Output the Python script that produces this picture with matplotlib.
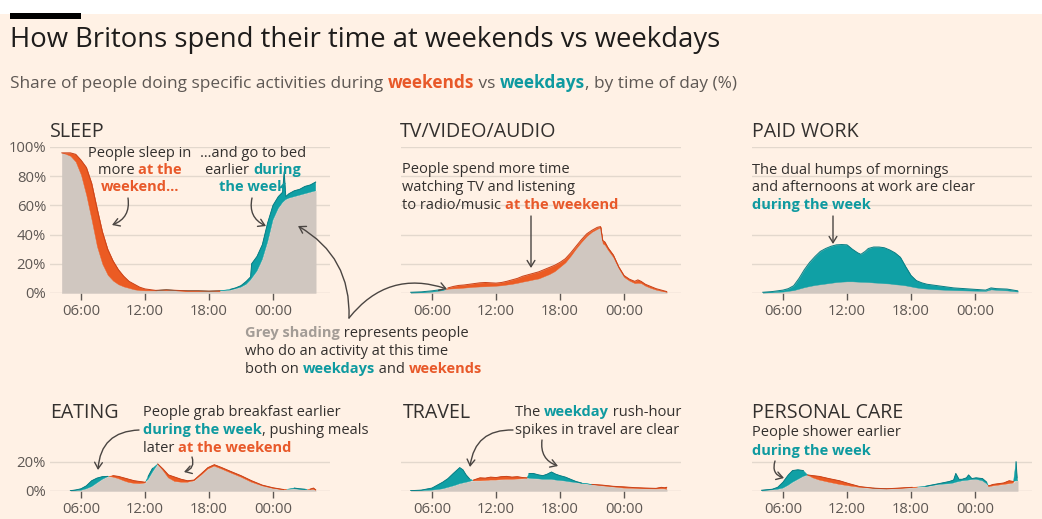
import numpy as np
import matplotlib
matplotlib.use('Agg')
import matplotlib.pyplot as plt
from matplotlib.patches import FancyArrowPatch, Rectangle

# ---------------------------------------------------------------- data
# Share of people (%) doing each activity, by hour of day (4 = 04:00, 28 = 04:00 next day)
sleep_hours = [4.2, 4.5, 5.0, 5.5, 6.0, 6.5, 7.0, 7.5, 8.0, 8.5, 9.0, 9.5, 10.0, 10.5, 11.0,
               11.5, 12.0, 13.0, 14.0, 15.0, 16.0, 17.0, 18.0, 19.0, 20.0, 20.5, 21.0, 21.5,
               21.9, 22.0, 22.5, 23.0, 23.5, 24.0, 24.5, 24.9, 25.05, 25.2, 25.5, 26.0, 26.5,
               27.0, 27.5, 28.0]
sleep_weekday = [96, 95.5, 94, 90, 81, 67, 50, 32, 20, 12.5, 8.5, 6, 4.5, 3.5, 2.5,
                 2, 1.8, 1.8, 2.2, 1.8, 1.5, 1.5, 1.3, 1.5, 2.5, 3.5, 5, 8,
                 11, 20, 25, 33, 48, 60, 66, 69, 83, 66, 68, 70, 71,
                 73, 74, 76]
sleep_weekend = [96, 96, 96, 95, 91, 86, 75, 58, 42, 30, 22, 16, 11.5, 8, 6,
                 4, 2.8, 1.8, 2.2, 1.8, 1.5, 1.5, 1.3, 1.5, 2, 3, 4, 6,
                 9, 10, 15, 23, 35, 50, 58, 62, 63, 64, 65, 66, 67,
                 68, 69, 70]

tv_hours = [4.0, 5.0, 6.0, 7.0, 7.5, 8.0, 8.5, 9.0, 9.5, 10.0, 10.5, 11.0, 11.5, 12.0, 12.5,
            13.0, 13.5, 14.0, 14.5, 15.0, 15.5, 16.0, 16.5, 17.0, 17.5, 18.0, 18.5, 19.0,
            19.5, 20.0, 20.5, 21.0, 21.5, 21.8, 22.0, 22.2, 22.5, 23.0, 23.5, 24.0, 24.5,
            25.0, 25.3, 25.6, 26.0, 26.5, 27.0, 27.5, 28.0]
tv_weekday = [0.5, 0.8, 1.5, 2.5, 3, 3.2, 3.4, 3.7, 4, 4.3, 4.5, 4.6, 4.8, 5, 5.3,
              5.8, 6.3, 7, 7.8, 8.5, 9.3, 10, 11.5, 13, 15, 18, 21, 25.5,
              30.5, 35, 39, 42, 44, 45, 34, 33, 29.5, 24.5, 17, 11, 8.5,
              6.8, 7, 6.8, 5, 3.5, 2.3, 1.5, 0.8]
tv_weekend = [0.3, 0.5, 1, 2, 3.5, 4.5, 5.2, 5.5, 6, 6.5, 7, 7.2, 7, 6.8, 7.2,
              8, 9, 10, 11.5, 12.5, 13.5, 14.5, 16, 17.5, 19, 21, 23.5, 27.5,
              32, 36.5, 40.5, 43, 45, 45.5, 36, 35, 31, 26, 18, 12, 9.5,
              8, 9, 8, 6, 4.5, 3, 2, 1]

work_hours = [4.1, 5.0, 6.0, 6.5, 7.0, 7.5, 8.0, 8.5, 9.0, 9.5, 10.0, 10.5, 11.0, 11.5, 12.0,
              12.5, 13.0, 13.3, 13.7, 14.0, 14.5, 15.0, 15.5, 16.0, 16.5, 17.0, 17.5, 18.0,
              18.5, 19.0, 19.5, 20.0, 21.0, 22.0, 23.0, 24.0, 25.0, 25.5, 26.0, 27.0, 28.0]
work_weekday = [0.5, 1, 2, 3, 5, 10, 16, 21, 25, 28.5, 30.5, 32, 33, 33.2, 33,
                30, 27.5, 26.5, 28.5, 30.5, 31.5, 31.5, 31, 29.5, 27.5, 24.5, 18, 12,
                8.5, 7, 6, 5.5, 4.5, 3.5, 3, 2.5, 2, 3.5, 3, 2.7, 1.5]
work_weekend = [0.3, 0.6, 1, 1.5, 2, 3, 4, 4.8, 5.5, 6, 6.5, 7, 7.5, 7.8, 8,
                8, 7.8, 7.7, 7.6, 7.5, 7.2, 7, 6.7, 6.5, 6, 5.7, 5.2, 4.5,
                3.8, 3.3, 3, 2.7, 2.3, 2, 1.8, 1.6, 1.5, 2.5, 2.2, 1.8, 1]

eat_hours = [5.0, 5.5, 6.0, 6.5, 7.0, 7.5, 8.0, 8.5, 9.0, 9.5, 10.0, 10.5, 11.0, 11.5, 12.0,
             12.3, 12.7, 13.2, 13.7, 14.2, 14.8, 15.4, 16.0, 16.6, 17.3, 17.9, 18.5, 19.2,
             20.0, 21.0, 22.0, 23.0, 24.0, 25.0, 26.0, 26.5, 27.0, 27.5, 27.8, 28.0]
eat_weekday = [0.2, 0.7, 1.5, 3.5, 7, 8.8, 9.8, 10, 9.5, 8.5, 7, 5.8, 5.2, 5, 5.5,
               10, 15.5, 18.5, 14, 9, 6.5, 6, 6, 7, 11, 15, 17, 15,
               12.5, 9.5, 6, 3.5, 1.8, 0.8, 2, 1.5, 1.2, 1, 1, 0.6]
eat_weekend = [0.1, 0.3, 0.5, 1.5, 3, 5.5, 8, 9.8, 10.5, 10, 9, 8, 7, 6.5, 6,
               8, 13, 18.5, 15, 11, 9.5, 8, 7, 7.5, 12, 16, 18, 16,
               13.5, 10.5, 7, 4, 2.2, 1, 1.5, 1.2, 1, 1.3, 2, 0.8]

travel_hours = [4.0, 5.0, 6.0, 6.5, 7.0, 7.5, 8.0, 8.3, 8.6, 8.9, 9.2, 9.5, 9.9, 10.5, 11.0,
                11.5, 12.0, 12.5, 13.0, 13.5, 14.0, 14.5, 14.9, 15.1, 15.5, 16.0, 16.4, 16.8,
                17.2, 17.6, 18.0, 18.5, 19.0, 19.5, 20.0, 21.0, 22.0, 23.0, 24.0, 25.0, 26.0,
                27.0, 27.5, 27.8, 28.0]
travel_weekday = [0.2, 0.6, 2, 4, 6, 8.5, 12, 14, 16, 14.5, 11, 8.5, 7, 7, 7.2,
                  7.5, 7.5, 7.8, 8, 8, 8.2, 8.4, 8.8, 12, 12, 11, 10.5, 11.5,
                  13, 11.5, 10.5, 9.5, 8, 6.5, 5.5, 4.5, 3.5, 2.8, 2, 1.8, 1.5,
                  1.4, 1.5, 1.5, 1.2]
travel_weekend = [0.1, 0.3, 0.6, 1, 1.5, 2.5, 3.5, 4.2, 5, 5.5, 6, 6.5, 7.5, 9, 8.8,
                  9.5, 9.2, 9.8, 10, 9.5, 9.8, 9.2, 9, 8.8, 8.5, 8.3, 8, 8,
                  8, 7.5, 7.2, 6.8, 6.2, 5.8, 5.3, 4.5, 4, 3.2, 2.8, 2.3, 2,
                  1.8, 2.5, 2.2, 2.5]

care_hours = [4.0, 5.0, 5.5, 6.0, 6.5, 6.9, 7.4, 7.9, 8.3, 8.8, 9.4, 10.3, 11.3, 12.2, 13.2,
              14.4, 15.7, 16.9, 18.1, 19.4, 20.6, 21.6, 22.0, 22.2, 22.5, 22.8, 23.2, 23.4,
              23.7, 24.1, 24.7, 25.1, 25.3, 25.7, 26.2, 26.7, 27.2, 27.6, 27.85, 27.95, 28.0]
care_weekday = [0.5, 1.2, 2.5, 6, 11, 14, 14.5, 14, 11, 9, 7.5, 6, 4.5, 3.5, 2.5,
                2, 1.5, 1.8, 2.3, 3.3, 5, 6.5, 7.5, 12, 8, 8, 9, 11,
                8.5, 9, 8.5, 6, 3, 3.5, 4, 4.5, 5, 5.5, 20, 9, 7]
care_weekend = [0.3, 0.8, 1.2, 2, 4, 6, 8, 10, 11, 10.5, 10, 8.5, 7, 5, 3,
                2, 1.5, 2, 2.5, 3, 4.5, 5, 5.5, 6, 6.5, 7, 7.3, 7.5,
                7.8, 8, 7, 5, 3.5, 4.5, 5, 5.5, 7, 6.5, 7, 7, 7]

tick_hours = [6, 12, 18, 24]
tick_labels = ['06:00', '12:00', '18:00', '00:00']
top_grid = [0, 20, 40, 60, 80, 100]
bottom_grid = [0, 20]

# ---------------------------------------------------------------- style
W, H = 1042, 519
plt.rcParams['font.family'] = ['Open Sans', 'DejaVu Sans']

BG = '#fff1e5'
ORANGE = '#eb5b23'
ORANGE_EDGE = '#c9431a'
ORANGE_TXT = '#e8592a'
TEAL = '#10a0a5'
TEAL_EDGE = '#0a7e84'
TEAL_TXT = '#0f9aa0'
GREY_FILL = '#d0c7c0'
GRID = '#e3d8cd'
DARK = '#33302e'
MID = '#5e5854'
GREY_TXT = '#a39c96'
ARROW = '#4a4542'

fig = plt.figure(figsize=(W / 100, H / 100), dpi=100, facecolor=BG)
renderer = fig.canvas.get_renderer()


def fx(x):
    return x / W


def fy(y):
    return 1 - y / H


def adv(s, size, weight='normal'):
    t = fig.text(0, 0, s + '|', fontsize=size, fontweight=weight)
    w1 = t.get_window_extent(renderer).width
    t.set_text('|')
    w2 = t.get_window_extent(renderer).width
    t.remove()
    return w1 - w2


def fit(parts, target):
    total = sum(adv(s, 10, wt) for s, c, wt in parts)
    return 10 * target / total


def rich(x, y, parts, size, ha='left'):
    widths = [adv(s, size, wt) for s, c, wt in parts]
    if ha == 'center':
        x -= sum(widths) / 2
    for (s, c, wt), w in zip(parts, widths):
        fig.text(fx(x), fy(y), s, fontsize=size, color=c, fontweight=wt,
                 ha='left', va='baseline')
        x += w


def arrow(a, b, rad=0.0):
    p = FancyArrowPatch((fx(a[0]), fy(a[1])), (fx(b[0]), fy(b[1])),
                        transform=fig.transFigure,
                        connectionstyle=f'arc3,rad={rad}',
                        arrowstyle='->,head_length=0.45,head_width=0.28',
                        mutation_scale=10, lw=1.0, color=ARROW,
                        shrinkA=0, shrinkB=0)
    fig.add_artist(p)


N, B = 'normal', 'bold'

# header band
fig.add_artist(Rectangle((0, fy(14)), 1, 1 - fy(14), transform=fig.transFigure,
                         facecolor='white', edgecolor='none'))
fig.add_artist(Rectangle((fx(10), fy(18.5)), fx(71), fy(13) - fy(18.5),
                         transform=fig.transFigure, facecolor='black', edgecolor='none'))

title = 'How Britons spend their time at weekends vs weekdays'
title_size = fit([(title, DARK, N)], 712)
fig.text(fx(10), fy(47), title, fontsize=title_size, color='#1e1c1b', va='baseline')

sub_parts = [('Share of people doing specific activities during ', MID, N),
             ('weekends', ORANGE_TXT, B), (' vs ', MID, N),
             ('weekdays', TEAL_TXT, B), (', by time of day (%)', MID, N)]
rich(10, 88, sub_parts, fit(sub_parts, 728))

# ---------------------------------------------------------------- panels
PX_PER_H = 64 / 6
PX_PER_PCT = 1.46
panel_size = fit([('TV/VIDEO/AUDIO', DARK, N)], 156)
tick_size = fit([('06:00', MID, N)], 38)
note_size = fit([('People spend more time', DARK, N)], 167)

panels = [
    ('SLEEP', sleep_hours, sleep_weekday, sleep_weekend, 0, 0, (50, 137)),
    ('TV/VIDEO/AUDIO', tv_hours, tv_weekday, tv_weekend, 1, 0, (400, 137)),
    ('PAID WORK', work_hours, work_weekday, work_weekend, 2, 0, (752, 137)),
    ('EATING', eat_hours, eat_weekday, eat_weekend, 0, 1, (50, 418)),
    ('TRAVEL', travel_hours, travel_weekday, travel_weekend, 1, 1, (403, 418)),
    ('PERSONAL CARE', care_hours, care_weekday, care_weekend, 2, 1, (752, 418)),
]

for name, hrs, wd, we, col, row, (tx, ty) in panels:
    six = 81 + 351 * col
    left = six - 31
    if row == 0:
        bottom, ymax, grid = 293, 100, top_grid
    else:
        bottom, ymax, grid = 491, 25, bottom_grid
    height = ymax * PX_PER_PCT
    ax = fig.add_axes([fx(left), fy(bottom), 280 / W, height / H])
    ax.set_xlim(6 - 31 / PX_PER_H, 6 + 249 / PX_PER_H)
    ax.set_ylim(0, ymax)
    ax.patch.set_alpha(0)
    for s in ax.spines.values():
        s.set_visible(False)
    for g in grid:
        ax.axhline(g, color=GRID if g else '#d8cdc2', lw=1.0, zorder=0)

    h = np.array(hrs, float)
    wd = np.array(wd, float)
    we = np.array(we, float)
    base = np.minimum(wd, we)
    ax.fill_between(h, 0, base, color=GREY_FILL, lw=0.3, zorder=2)
    ax.fill_between(h, wd, we, where=we >= wd, interpolate=True,
                    color=ORANGE, lw=0.3, zorder=2)
    ax.fill_between(h, we, wd, where=wd >= we, interpolate=True,
                    color=TEAL, lw=0.3, zorder=2)
    # thin darker edge along whichever series is on top
    ax.plot(h, np.where(we >= wd, we, np.nan), color=ORANGE_EDGE, lw=0.7, zorder=3)
    ax.plot(h, np.where(wd > we, wd, np.nan), color=TEAL_EDGE, lw=0.7, zorder=3)

    ax.set_xticks(tick_hours)
    ax.set_xticklabels(tick_labels)
    ax.tick_params(axis='x', length=5, width=1, color=MID, pad=3,
                   labelsize=tick_size, labelcolor=MID)
    ax.set_yticks([])

    fig.text(fx(tx), fy(ty), name, fontsize=panel_size, color=DARK, va='baseline')

    if col == 0:
        for g in grid:
            fig.text(fx(46), fy(bottom - g * PX_PER_PCT + 2), f'{g}%', fontsize=tick_size,
                     color=MID, ha='right', va='center')

# ---------------------------------------------------------------- notes
rich(140, 157, [('People sleep in', DARK, N)], note_size, 'center')
rich(140, 174, [('more ', DARK, N), ('at the', ORANGE_TXT, B)], note_size, 'center')
rich(140, 191.5, [('weekend\u2026', ORANGE_TXT, B)], note_size, 'center')
arrow((128, 198), (112, 225), -0.4)

rich(253, 157, [('\u2026and go to bed', DARK, N)], note_size, 'center')
rich(253, 174, [('earlier ', DARK, N), ('during', TEAL_TXT, B)], note_size, 'center')
rich(253, 191.5, [('the week', TEAL_TXT, B)], note_size, 'center')
arrow((252, 198), (266, 226), 0.4)

rich(402, 173, [('People spend more time', DARK, N)], note_size)
rich(402, 191, [('watching TV and listening', DARK, N)], note_size)
rich(402, 209, [('to radio/music ', DARK, N), ('at the weekend', ORANGE_TXT, B)], note_size)
arrow((531, 216), (531, 268))

rich(752, 174, [('The dual humps of mornings', DARK, N)], note_size)
rich(752, 191.5, [('and afternoons at work are clear', DARK, N)], note_size)
rich(752, 209, [('during the week', TEAL_TXT, B)], note_size)
arrow((833, 216), (833, 244))

rich(245, 337, [('Grey shading', GREY_TXT, B), (' represents people', DARK, N)], note_size)
rich(245, 355, [('who do an activity at this time', DARK, N)], note_size)
rich(245, 373, [('both on ', DARK, N), ('weekdays', TEAL_TXT, B), (' and ', DARK, N),
                ('weekends', ORANGE_TXT, B)], note_size)
arrow((349, 318), (298, 226), 0.3)
arrow((349, 318), (447, 289), -0.35)

rich(143, 416, [('People grab breakfast earlier', DARK, N)], note_size)
rich(143, 434, [('during the week', TEAL_TXT, B), (', pushing meals', DARK, N)], note_size)
rich(143, 451.5, [('later ', DARK, N), ('at the weekend', ORANGE_TXT, B)], note_size)
arrow((139, 430), (98, 470), 0.45)
arrow((192, 457), (184, 472), -0.5)

rich(515, 416, [('The ', DARK, N), ('weekday', TEAL_TXT, B), (' rush-hour', DARK, N)], note_size)
rich(515, 434, [('spikes in travel are clear', DARK, N)], note_size)
arrow((513, 430), (470, 467), 0.45)
arrow((542, 440), (558, 466), 0.4)

rich(752, 436.5, [('People shower earlier', DARK, N)], note_size)
rich(752, 455, [('during the week', TEAL_TXT, B)], note_size)
arrow((775, 461), (784, 478), 0.5)

fig.savefig('out.png', dpi=100, facecolor=BG)
